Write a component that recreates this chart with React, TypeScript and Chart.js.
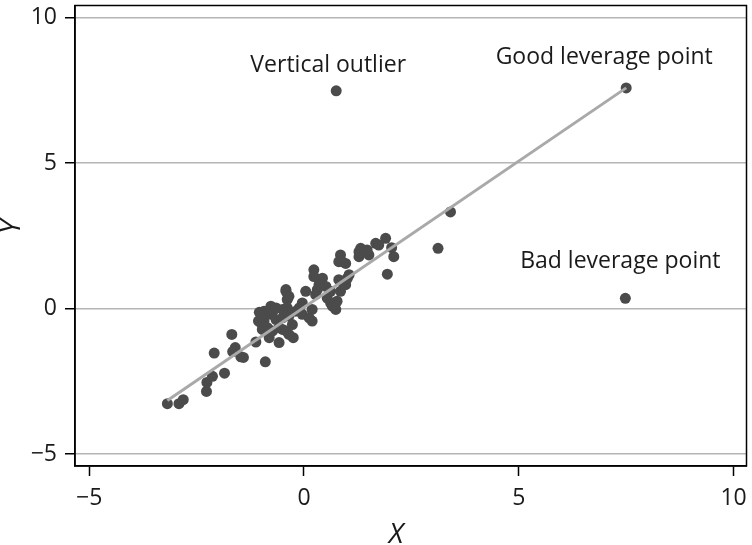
import React, { useEffect, useRef } from "react";
import { Chart, registerables } from "chart.js";

Chart.register(...registerables);

// Cluster of ordinary observations
const clusterX = [
  -3.18, -2.91, -2.81, -2.27, -2.26, -2.13, -1.85, -2.09, -1.68, -1.6,
  -1.66, -1.47, -1.41, -1.12, -1.04, -1.06, -0.9, -1.0, -0.97, -0.81,
  -0.93, -0.77, -0.65, -0.58, -0.5, -0.42, -0.39, -0.35, -0.27, -0.25,
  -0.19, -0.04, 0.04, 0.19, 0.19, 0.23, 0.23, 0.31, 0.43, 0.51,
  0.54, 0.62, 0.74, 0.81, 0.85, 0.81, 0.97, 0.97, 1.05, 1.32,
  1.28, 1.51, 1.67, 1.9, 2.04, 2.09, 1.94, 3.12, 3.41,
  -0.77, -0.65, -0.5, -0.58, -0.42, -0.35, -0.73, -0.85, -0.11, -0.04,
  0.12, 0.27, 0.35, 0.62, 0.66, 0.77, 0.85, 0.93, 1.01, 0.89,
  -0.42, -0.35, -0.39, -0.5, -0.69, -0.93, -0.81, 1.47, 1.74, 1.28,
];
const clusterY = [
  -3.27, -3.27, -3.13, -2.85, -2.54, -2.33, -2.22, -1.53, -0.89, -1.34,
  -1.48, -1.66, -1.68, -1.15, -0.13, -0.43, -1.83, -0.49, -0.72, -1.0,
  -0.09, 0.08, 0.02, -1.17, -0.72, 0.65, 0.31, -0.26, -0.55, -1.0,
  -0.09, 0.19, 0.59, -0.43, -0.03, 1.33, 1.1, 0.65, 1.04, 0.76,
  0.36, 0.19, -0.03, 0.99, 1.84, 1.61, 1.55, 0.82, 1.16, 2.07,
  1.78, 1.84, 2.24, 2.41, 2.09, 1.78, 1.18, 2.07, 3.32,
  -0.2, -0.38, -0.32, -0.66, -0.77, -0.89, -0.77, -0.66, 0.02, -0.2,
  -0.32, 0.48, 0.82, 0.59, 0.08, 0.25, 0.59, 0.82, 1.04, 1.61,
  0.59, 0.42, 0.02, -0.03, -0.03, -0.43, -0.09, 2.01, 2.18, 1.95,
];

// Labelled unusual observations
const outlierLabels = ["Vertical outlier", "Good leverage point", "Bad leverage point"];
const outlierX = [0.75, 7.5, 7.48];
const outlierY = [7.48, 7.58, 0.35];

// Fitted regression line end points
const fitX = [-3.18, 7.5];
const fitY = [-3.16, 7.58];

// Axis ticks
const xTicks = [-5, 0, 5, 10];
const yTicks = [-5, 0, 5, 10];

const FONT = "'Open Sans', 'Noto Sans', sans-serif";
const fmt = (v: number) => (v < 0 ? "\u2212" + Math.abs(v) : String(v));

// pixel offsets of label (centre, baseline) relative to its point
const labelOffsets = [
  [-8, -19],
  [-22, -24],
  [-5, -30],
];

const annotationPlugin = {
  id: "annotations",
  afterDraw(chart: any) {
    const { ctx, chartArea, scales } = chart;
    ctx.save();
    // frame
    ctx.strokeStyle = "#000";
    ctx.lineWidth = 1.5;
    ctx.strokeRect(chartArea.left, chartArea.top, chartArea.right - chartArea.left, chartArea.bottom - chartArea.top);
    // labels
    ctx.fillStyle = "#1a1a1a";
    ctx.font = `23px ${FONT}`;
    ctx.textAlign = "center";
    ctx.textBaseline = "alphabetic";
    outlierLabels.forEach((t, i) => {
      const px = scales.x.getPixelForValue(outlierX[i]);
      const py = scales.y.getPixelForValue(outlierY[i]);
      ctx.fillText(t, px + labelOffsets[i][0], py + labelOffsets[i][1]);
    });
    // axis titles
    ctx.font = `italic 28px ${FONT}`;
    ctx.textBaseline = "alphabetic";
    ctx.fillText("X", 396, 543);
    ctx.translate(20, 227);
    ctx.rotate(-Math.PI / 2);
    ctx.fillText("Y", 0, 0);
    ctx.restore();
  },
};

export default function App() {
  const ref = useRef<HTMLCanvasElement | null>(null);
  useEffect(() => {
    if (!ref.current) return;
    const points = clusterX.map((x, i) => ({ x, y: clusterY[i] }));
    outlierX.forEach((x, i) => points.push({ x, y: outlierY[i] }));
    const line = fitX.map((x, i) => ({ x, y: fitY[i] }));
    const chart = new Chart(ref.current, {
      type: "scatter",
      data: {
        datasets: [
          {
            type: "line",
            data: line,
            borderColor: "#a9a9a9",
            borderWidth: 3,
            pointRadius: 0,
            showLine: true,
            fill: false,
            order: 0,
          } as any,
          {
            data: points,
            backgroundColor: "#4b4b4b",
            borderWidth: 0,
            pointRadius: 5.5,
            order: 1,
          },
        ],
      },
      options: {
        animation: false,
        responsive: false,
        devicePixelRatio: 1,
        layout: { padding: { top: 2, right: 3, left: 0, bottom: 0 } },
        plugins: { legend: { display: false }, tooltip: { enabled: false } },
        scales: {
          x: {
            type: "linear",
            min: -5.33,
            max: 10.3,
            afterBuildTicks: (s: any) => {
              s.ticks = xTicks.map((v) => ({ value: v }));
            },
            afterFit: (s: any) => {
              s.height = 79;
              s.paddingLeft = 0;
              s.paddingRight = 0;
            },
            grid: {
              drawOnChartArea: false,
              drawTicks: true,
              tickLength: 10,
              tickColor: "#000",
              tickWidth: 1.5,
            },
            border: { display: true, color: "#000", width: 1.5 },
            ticks: {
              font: { family: FONT, size: 23 },
              color: "#1a1a1a",
              padding: 9,
              maxRotation: 0,
              callback: (v: any) => fmt(Number(v)),
            },
          },
          y: {
            type: "linear",
            min: -5.41,
            max: 10.41,
            afterBuildTicks: (s: any) => {
              s.ticks = yTicks.map((v) => ({ value: v }));
            },
            afterFit: (s: any) => {
              s.width = 75;
              s.paddingTop = 0;
              s.paddingBottom = 0;
            },
            grid: {
              drawOnChartArea: true,
              color: "#b5b5b5",
              lineWidth: 1.5,
              drawTicks: true,
              tickLength: 10,
              tickColor: "#000",
              tickWidth: 1.5,
            },
            border: { display: true, color: "#000", width: 1.5 },
            ticks: {
              font: { family: FONT, size: 23 },
              color: "#1a1a1a",
              padding: 8,
              callback: (v: any) => fmt(Number(v)),
            },
          },
        },
      },
      plugins: [annotationPlugin],
    });
    return () => chart.destroy();
  }, []);
  return (
    <div style={{ position: "fixed", left: 0, top: 0, width: 752, height: 545, background: "#fff" }}>
      <canvas ref={ref} width={752} height={545} style={{ width: 752, height: 545, display: "block" }} />
    </div>
  );
}
